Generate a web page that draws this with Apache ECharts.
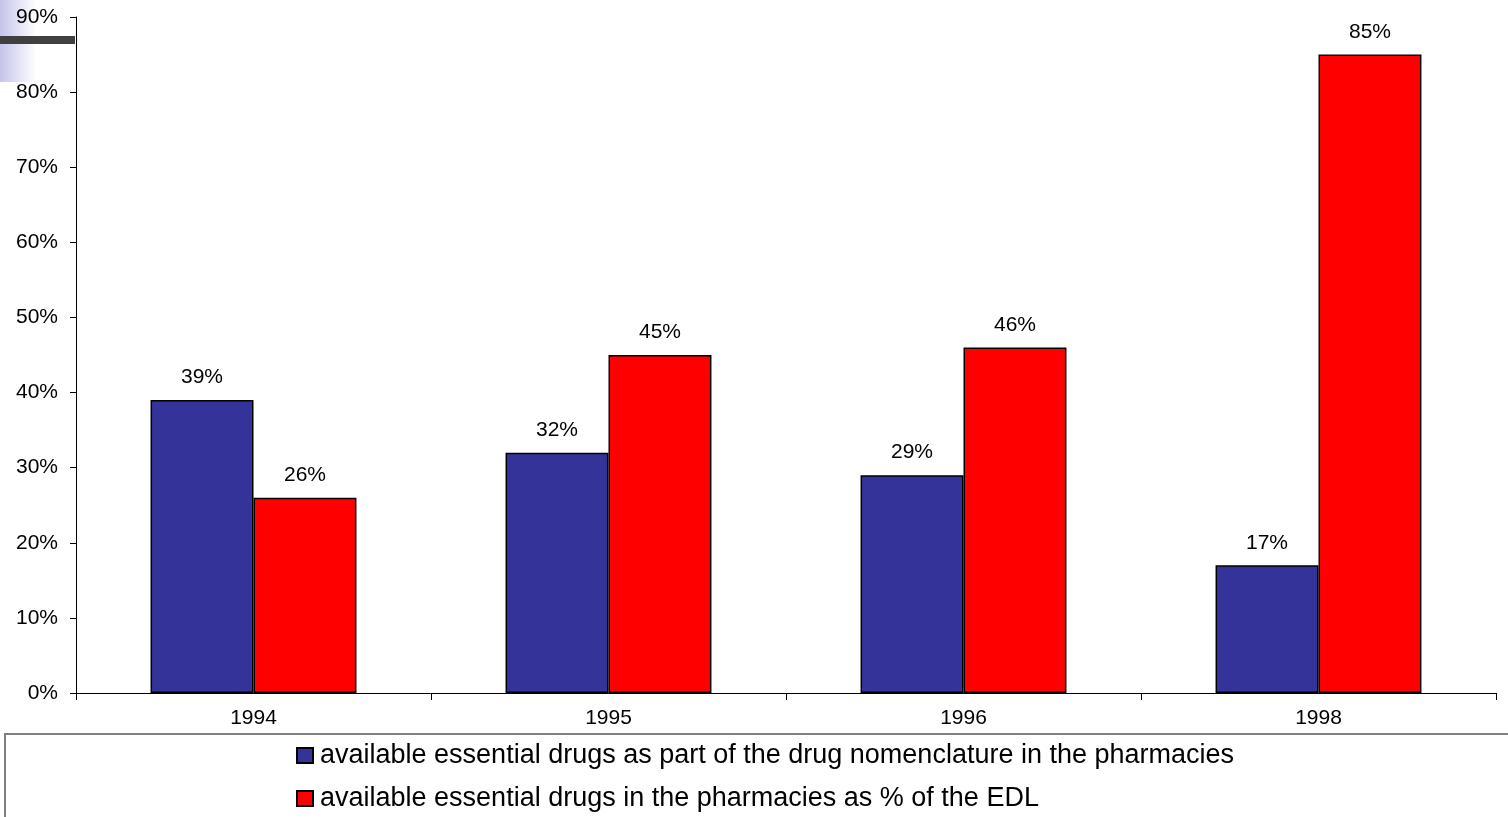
<!DOCTYPE html>
<html>
<head>
<meta charset="utf-8">
<script src="https://cdn.jsdelivr.net/npm/echarts@6/dist/echarts.min.js"></script>
<style>
  html, body { margin: 0; padding: 0; background: #fff; }
  #chart { width: 1508px; height: 817px; }
</style>
</head>
<body>
<div id="chart"></div>
<script>
// Years and availability shares (percent)
const years = ['1994', '1995', '1996', '1998'];
const nomenclatureShare = [39, 32, 29, 17];
const edlShare = [26, 45, 46, 85];
const seriesNames = [
  'available essential drugs as part of the drug nomenclature in the pharmacies',
  'available essential drugs in the pharmacies as % of the EDL'
];
const yTicks = { min: 0, max: 90, step: 10 };

const FONT = '"Liberation Sans", Arial, sans-serif';

const chart = echarts.init(document.getElementById('chart'), null, { renderer: 'canvas' });

const barLabel = {
  show: true,
  position: 'top',
  distance: 12,
  formatter: '{c}%',
  color: '#000',
  fontFamily: FONT,
  fontSize: 21
};

// One legend block per row, stacked inside the framed box below the axis
function legendRow(name, top) {
  return {
    left: 296,
    top: top,
    padding: 0,
    itemWidth: 16,
    itemHeight: 15,
    icon: 'rect',
    textStyle: { fontSize: 27, color: '#000', fontFamily: FONT, lineHeight: 27, padding: [0, 0, 0, 2] },
    data: [name]
  };
}

chart.setOption({
  animation: false,
  backgroundColor: '#fff',
  textStyle: { fontFamily: FONT },
  graphic: [
    {
      type: 'rect',
      shape: { x: 0, y: 0, width: 36, height: 82 },
      style: {
        fill: new echarts.graphic.LinearGradient(0, 0, 1, 0, [
          { offset: 0, color: '#c4c4ea' },
          { offset: 1, color: '#ffffff' }
        ])
      },
      z: -10
    },
    {
      type: 'rect',
      shape: { x: 0, y: 36, width: 75, height: 8 },
      style: { fill: '#404040' },
      z: -5
    },
    {
      type: 'rect',
      shape: { x: 5, y: 734, width: 1510, height: 100 },
      style: { fill: 'none', stroke: '#7f7f7f', lineWidth: 2 },
      z: -5
    }
  ],
  grid: { left: 76, top: 17, right: 12, bottom: 124, containLabel: false },
  legend: [
    legendRow(seriesNames[0], 742),
    legendRow(seriesNames[1], 785)
  ],
  xAxis: {
    type: 'category',
    data: years,
    axisLine: { lineStyle: { color: '#000', width: 1 } },
    axisTick: { show: true, length: 7, lineStyle: { color: '#000' } },
    axisLabel: { color: '#000', fontSize: 21, fontFamily: FONT, margin: 15 },
    splitLine: { show: false }
  },
  yAxis: {
    type: 'value',
    min: yTicks.min,
    max: yTicks.max,
    interval: yTicks.step,
    axisLine: { show: true, lineStyle: { color: '#000', width: 1 } },
    axisTick: { show: true, length: 6, lineStyle: { color: '#000' } },
    axisLabel: { color: '#000', fontSize: 21, fontFamily: FONT, margin: 18, formatter: '{value}%' },
    splitLine: { show: false }
  },
  series: [
    {
      name: seriesNames[0],
      type: 'bar',
      data: nomenclatureShare,
      barGap: '0%',
      barCategoryGap: '42%',
      itemStyle: { color: '#333399', borderColor: '#000', borderWidth: 1.5 },
      label: barLabel
    },
    {
      name: seriesNames[1],
      type: 'bar',
      data: edlShare,
      itemStyle: { color: '#ff0000', borderColor: '#000', borderWidth: 1.5 },
      label: barLabel
    }
  ]
});
</script>
</body>
</html>
